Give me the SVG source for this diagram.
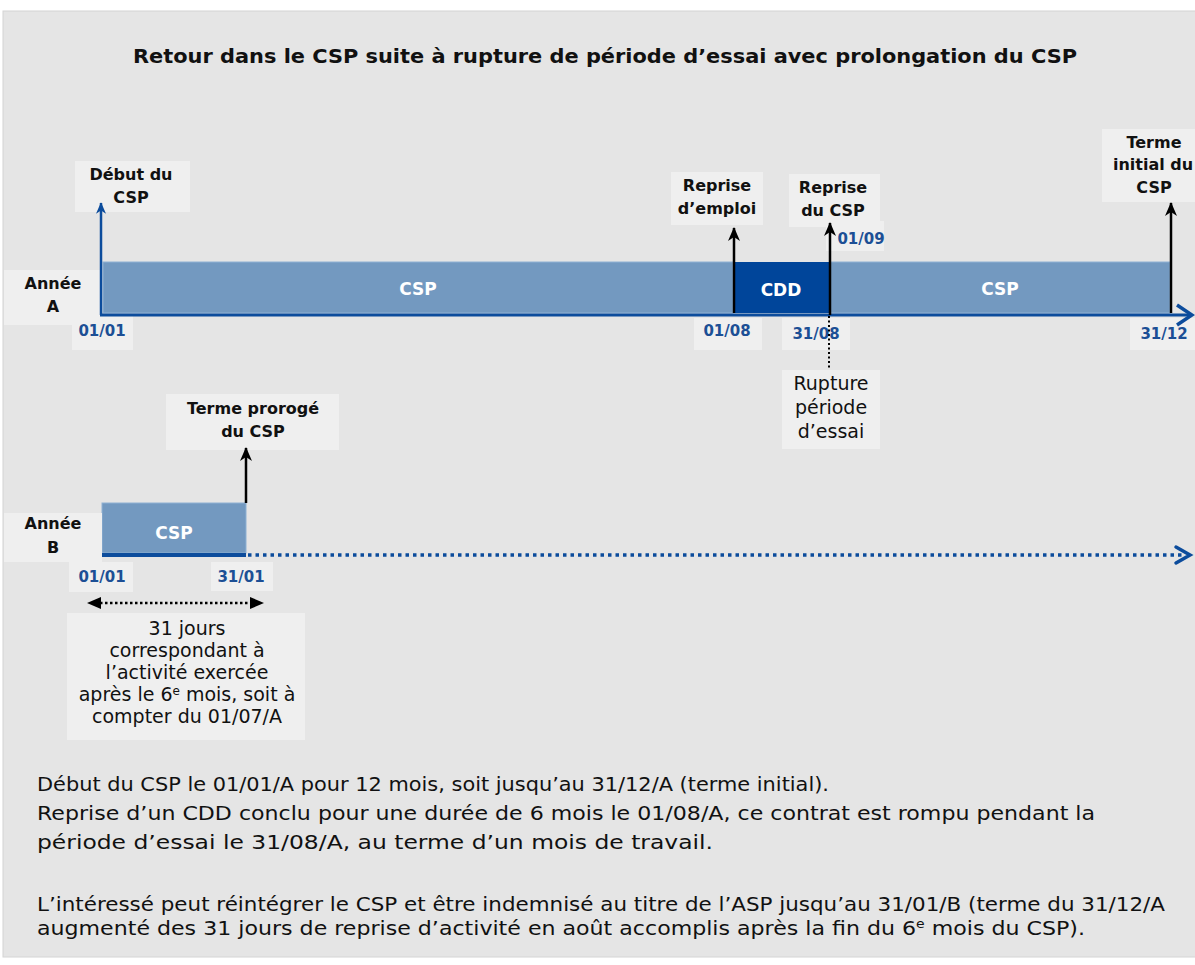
<svg xmlns="http://www.w3.org/2000/svg" width="1195" height="965" viewBox="0 0 1195 965">
  <style>
    .lbl { font-family: "DejaVu Sans", "Liberation Sans", sans-serif; font-weight: bold; font-size: 16px; fill: #111; text-anchor: middle; }
    .reg { font-family: "DejaVu Sans", "Liberation Sans", sans-serif; font-size: 19px; fill: #111; text-anchor: middle; }
    .date { font-family: "DejaVu Sans", "Liberation Sans", sans-serif; font-weight: bold; font-size: 15px; fill: #1c4f95; text-anchor: middle; }
    .bar-txt { font-family: "DejaVu Sans", "Liberation Sans", sans-serif; font-weight: bold; font-size: 17px; fill: #ffffff; text-anchor: middle; }
    .note { font-family: "DejaVu Sans", "Liberation Sans", sans-serif; font-size: 19px; fill: #111; }
    .box { fill: #efefef; }
    .csp { fill: #7399c0; stroke: #8fb1d4; stroke-width: 1; }
    .cdd { fill: #00459a; }
    .axis { stroke: #0c4c9c; stroke-width: 3; fill: none; }
    .tick { stroke: #000; stroke-width: 2.5; fill: none; }
  </style>
  <defs>
    <marker id="headBlack" viewBox="0 0 14 12" refX="13" refY="6" markerWidth="14" markerHeight="12" orient="auto" markerUnits="userSpaceOnUse">
      <path d="M14 6 L0 0 L4 6 L0 12 Z" fill="#000"/>
    </marker>
    <marker id="headBlue" viewBox="0 0 14 12" refX="13" refY="6" markerWidth="12" markerHeight="10" orient="auto" markerUnits="userSpaceOnUse">
      <path d="M14 6 L0 0 L4 6 L0 12 Z" fill="#0c4c9c"/>
    </marker>
  </defs>

  <!-- panel -->
  <rect x="0" y="0" width="1195" height="965" fill="#ffffff"/>
  <rect x="3" y="11" width="1195" height="946" fill="#e5e5e5" stroke="#d4d4d4" stroke-width="1"/>

  <text x="605" y="63" font-family="DejaVu Sans, Liberation Sans, sans-serif" font-weight="bold" font-size="19" fill="#111" text-anchor="middle" textLength="944" lengthAdjust="spacingAndGlyphs">Retour dans le CSP suite à rupture de période d’essai avec prolongation du CSP</text>

  <!-- Year A bars -->
  <g id="bar-a-csp1">
    <rect class="csp" x="103" y="262" width="630" height="51"/>
    <text class="bar-txt" x="418" y="295">CSP</text>
  </g>
  <g id="bar-a-cdd">
    <rect class="cdd" x="733" y="262" width="96" height="51"/>
    <text class="bar-txt" x="781" y="296">CDD</text>
  </g>
  <g id="bar-a-csp2">
    <rect class="csp" x="830" y="262" width="340" height="51"/>
    <text class="bar-txt" x="1000" y="295">CSP</text>
  </g>

  <!-- Year B bar -->
  <g id="bar-b-csp">
    <rect class="csp" x="102" y="503" width="144" height="50"/>
    <text class="bar-txt" x="174" y="539">CSP</text>
  </g>

  <!-- label boxes -->
  <g id="annee-a">
    <rect class="box" x="4" y="270" width="98" height="55"/>
    <text class="lbl" x="53" y="289">Année</text>
    <text class="lbl" x="53" y="312">A</text>
  </g>
  <g id="debut-csp">
    <rect class="box" x="75" y="161" width="115" height="51"/>
    <text class="lbl" x="131" y="180">Début du</text>
    <text class="lbl" x="131" y="203">CSP</text>
  </g>
  <g id="date-0101-a">
    <rect class="box" x="72" y="316" width="61" height="34"/>
    <text class="date" x="102" y="336">01/01</text>
  </g>
  <g id="reprise-emploi">
    <rect class="box" x="671" y="172" width="92" height="53"/>
    <text class="lbl" x="717" y="191">Reprise</text>
    <text class="lbl" x="717" y="214">d’emploi</text>
  </g>
  <g id="reprise-csp">
    <rect class="box" x="789" y="174" width="91" height="53"/>
    <text class="lbl" x="833" y="193">Reprise</text>
    <text class="lbl" x="833" y="216">du CSP</text>
  </g>
  <g id="date-0109">
    <rect class="box" x="826" y="221" width="58" height="30"/>
    <text class="date" x="861" y="244">01/09</text>
  </g>
  <g id="date-0108">
    <rect class="box" x="694" y="318" width="68" height="32"/>
    <text class="date" x="727" y="336">01/08</text>
  </g>
  <g id="date-3108">
    <rect class="box" x="782" y="318" width="68" height="32"/>
    <text class="date" x="816" y="339">31/08</text>
  </g>
  <g id="date-3112">
    <rect class="box" x="1130" y="318" width="65" height="32"/>
    <text class="date" x="1164" y="339">31/12</text>
  </g>
  <g id="terme-initial">
    <rect class="box" x="1102" y="129" width="93" height="73"/>
    <text class="lbl" x="1154" y="148">Terme</text>
    <text class="lbl" x="1153" y="170">initial du</text>
    <text class="lbl" x="1154" y="193">CSP</text>
  </g>
  <g id="rupture">
    <rect class="box" x="782" y="370" width="98" height="79"/>
    <text class="reg" x="831" y="390">Rupture</text>
    <text class="reg" x="831" y="414">période</text>
    <text class="reg" x="831" y="438">d’essai</text>
  </g>
  <g id="annee-b">
    <rect class="box" x="4" y="513" width="98" height="49"/>
    <text class="lbl" x="53" y="529">Année</text>
    <text class="lbl" x="53" y="553">B</text>
  </g>
  <g id="terme-proroge">
    <rect class="box" x="166" y="394" width="173" height="56"/>
    <text class="lbl" x="253" y="414">Terme prorogé</text>
    <text class="lbl" x="253" y="437">du CSP</text>
  </g>
  <g id="date-0101-b">
    <rect class="box" x="69" y="562" width="64" height="30"/>
    <text class="date" x="102" y="582">01/01</text>
  </g>
  <g id="date-3101-b">
    <rect class="box" x="211" y="562" width="62" height="29"/>
    <text class="date" x="241" y="582">31/01</text>
  </g>
  <g id="explication-31-jours">
    <rect class="box" x="67" y="613" width="238" height="127"/>
    <text class="reg" x="187" y="635">31 jours</text>
    <text class="reg" x="187" y="657">correspondant à</text>
    <text class="reg" x="187" y="679">l’activité exercée</text>
    <text class="reg" x="187" y="701">après le 6<tspan font-size="12" dy="-6">e</tspan><tspan dy="6"> mois, soit à</tspan></text>
    <text class="reg" x="187" y="723">compter du 01/07/A</text>
  </g>

  <!-- connectors -->
  <g id="connectors">
    <!-- year A axis -->
    <line class="axis" x1="100" y1="315" x2="1191" y2="315"/>
    <polyline points="1177,305 1192,315 1177,325" fill="none" stroke="#0c4c9c" stroke-width="3.5" stroke-linejoin="miter"/>
    <!-- start marker -->
    <line x1="101" y1="315" x2="101" y2="203" stroke="#0c4c9c" stroke-width="2.5" marker-end="url(#headBlue)"/>
    <!-- event arrows -->
    <line class="tick" x1="734" y1="313" x2="734" y2="228" marker-end="url(#headBlack)"/>
    <line class="tick" x1="830" y1="315" x2="830" y2="223" marker-end="url(#headBlack)"/>
    <line class="tick" x1="1171" y1="313" x2="1171" y2="203" marker-end="url(#headBlack)"/>
    <!-- trial-period break -->
    <line x1="829" y1="316" x2="829" y2="370" stroke="#000" stroke-width="2" stroke-dasharray="2 2.5"/>

    <!-- year B axis -->
    <line x1="102" y1="555" x2="246" y2="555" stroke="#0c4c9c" stroke-width="4"/>
    <line x1="248" y1="555" x2="1183" y2="555" stroke="#0c4c9c" stroke-width="3.5" stroke-dasharray="3.5 4"/>
    <polyline points="1176,547 1190,555 1176,563" fill="none" stroke="#0c4c9c" stroke-width="3.5" stroke-linecap="round"/>
    <line class="tick" x1="246" y1="503" x2="246" y2="448" marker-end="url(#headBlack)"/>

    <!-- 31-day span -->
    <line x1="100" y1="603" x2="252" y2="603" stroke="#000" stroke-width="2.5" stroke-dasharray="2.5 2.5"/>
    <path d="M87 603 L101 597 L101 609 Z" fill="#000"/>
    <path d="M264 603 L250 597 L250 609 Z" fill="#000"/>
  </g>

  <!-- explanatory notes -->
  <text class="note" x="37" y="791" textLength="792" lengthAdjust="spacingAndGlyphs">Début du CSP le 01/01/A pour 12 mois, soit jusqu’au 31/12/A (terme initial).</text>
  <text class="note" x="37" y="820" textLength="1058" lengthAdjust="spacingAndGlyphs">Reprise d’un CDD conclu pour une durée de 6 mois le 01/08/A, ce contrat est rompu pendant la</text>
  <text class="note" x="37" y="849" textLength="676" lengthAdjust="spacingAndGlyphs">période d’essai le 31/08/A, au terme d’un mois de travail.</text>
  <text class="note" x="37" y="911" textLength="1128" lengthAdjust="spacingAndGlyphs">L’intéressé peut réintégrer le CSP et être indemnisé au titre de l’ASP jusqu’au 31/01/B (terme du 31/12/A</text>
  <text class="note" x="37" y="935" textLength="1048" lengthAdjust="spacingAndGlyphs">augmenté des 31 jours de reprise d’activité en août accomplis après la fin du 6<tspan font-size="12" dy="-7">e</tspan><tspan dy="7"> mois du CSP).</tspan></text>
</svg>
